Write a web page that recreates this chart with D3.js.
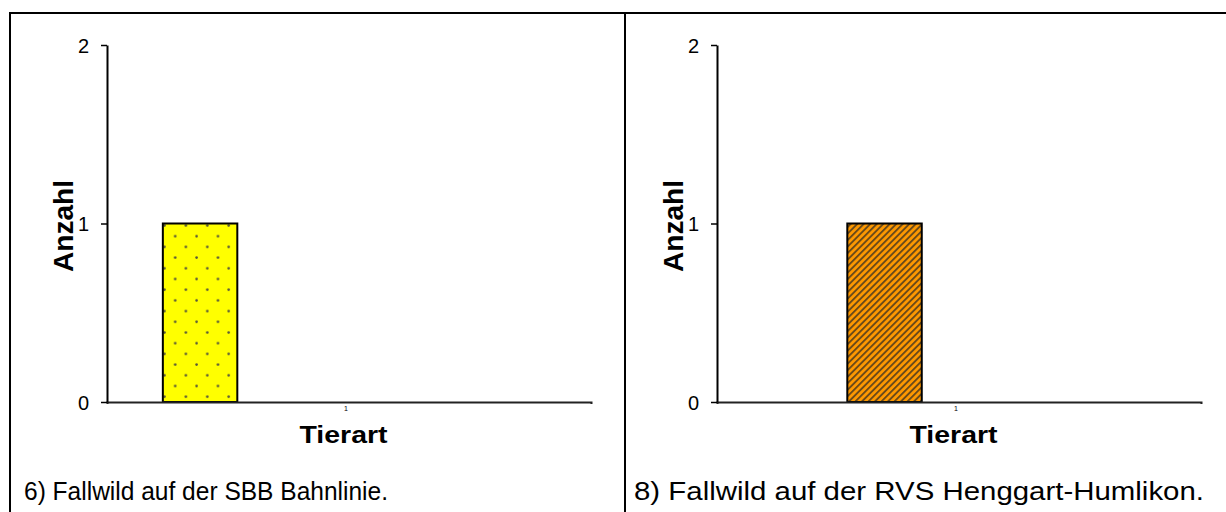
<!DOCTYPE html>
<html>
<head>
<meta charset="utf-8">
<script src="https://cdn.jsdelivr.net/npm/d3@7"></script>
<style>
  html, body { margin: 0; padding: 0; background: #fff; }
  svg { display: block; font-family: "Liberation Sans", Arial, sans-serif; }
</style>
</head>
<body>
<svg id="chart" width="1226" height="512"></svg>
<script>
// ---- data ----
const categories = ["1"];
const seriesNames = ["S1", "S2", "S3", "S4", "S5"];
const yTickValues = [0, 1, 2];
const panel6Values = [1, 0, 0, 0, 0];
const panel8Values = [0, 1, 0, 0, 0];
const yAxisTitle = "Anzahl";
const xAxisTitle = "Tierart";
const caption6 = "6) Fallwild auf der SBB Bahnlinie.";
const caption8 = "8) Fallwild auf der RVS Henggart-Humlikon.";

const svg = d3.select("#chart");
const defs = svg.append("defs");

// dotted yellow pattern
const pDots = defs.append("pattern").attr("id", "dots").attr("patternUnits", "userSpaceOnUse")
  .attr("width", 21.4).attr("height", 21.4).attr("x", 162).attr("y", 223);
pDots.append("rect").attr("width", 21.4).attr("height", 21.4).attr("fill", "#ffff00");
pDots.append("circle").attr("cx", 2.5).attr("cy", 2.5).attr("r", 1.3).attr("fill", "#55553a");
pDots.append("circle").attr("cx", 13.2).attr("cy", 13.2).attr("r", 1.3).attr("fill", "#55553a");

// hatched orange pattern
const pHatch = defs.append("pattern").attr("id", "hatch").attr("patternUnits", "userSpaceOnUse")
  .attr("width", 4.6).attr("height", 4.6).attr("patternTransform", "rotate(45)");
pHatch.append("rect").attr("width", 4.6).attr("height", 4.6).attr("fill", "#ff9900");
pHatch.append("rect").attr("width", 1.9).attr("height", 4.6).attr("fill", "#6a4a1a");

const seriesFills = ["url(#dots)", "url(#hatch)", "#9999ff", "#993366", "#ffffcc"];

// frame
svg.append("line").attr("x1", 10).attr("x2", 1226).attr("y1", 13).attr("y2", 13)
  .attr("stroke", "#000").attr("stroke-width", 2);
svg.append("line").attr("x1", 10).attr("x2", 10).attr("y1", 12).attr("y2", 512)
  .attr("stroke", "#000").attr("stroke-width", 2);
svg.append("line").attr("x1", 625).attr("x2", 625).attr("y1", 12).attr("y2", 512)
  .attr("stroke", "#000").attr("stroke-width", 2);

function panel(ox, values, caption, captionLen) {
  const left = ox + 107, right = ox + 591;
  const y = d3.scaleLinear().domain([0, 2]).range([402, 45]);
  const x0 = d3.scaleBand().domain(categories).range([left, right]).padding(0);
  const x1 = d3.scaleBand().domain(seriesNames).range([0, x0.bandwidth()])
    .paddingInner(0).paddingOuter(0.75);

  const g = svg.append("g");

  // bars
  categories.forEach(c => {
    const rows = values.map((v, i) => ({ v, s: seriesNames[i], i })).filter(d => d.v > 0);
    g.selectAll(null).data(rows).enter().append("rect")
      .attr("x", d => x0(c) + x1(d.s))
      .attr("width", x1.bandwidth())
      .attr("y", d => y(d.v))
      .attr("height", d => y(0) - y(d.v))
      .attr("fill", d => seriesFills[d.i])
      .attr("stroke", "#000").attr("stroke-width", 2);
  });

  // x axis
  const xa = g.append("g").attr("transform", `translate(0,${y(0)})`)
    .call(d3.axisBottom(x0).tickSize(0).tickSizeOuter(2).tickPadding(4));
  xa.select(".domain").attr("stroke", "#222").attr("stroke-width", 2);
  xa.selectAll(".tick text").style("font-size", "7px").attr("fill", "#000")
    .style("font-family", "Liberation Sans, Arial, sans-serif").attr("dx", -3);

  // y axis
  const ya = g.append("g").attr("transform", `translate(${left},0)`)
    .call(d3.axisLeft(y).tickValues(yTickValues).tickFormat(d3.format("d"))
      .tickSize(6).tickSizeOuter(0).tickPadding(12));
  ya.select(".domain").attr("stroke", "#000").attr("stroke-width", 2);
  ya.selectAll(".tick line").attr("stroke", "#000").attr("stroke-width", 1.5);
  ya.selectAll(".tick text").style("font-size", "20px").attr("fill", "#000")
    .style("font-family", "Liberation Sans, Arial, sans-serif")
    .attr("dy", "0.35em");

  // titles
  g.append("text").attr("transform", `translate(${ox + 73},${226}) rotate(-90)`)
    .attr("text-anchor", "middle").attr("font-weight", "bold").attr("font-size", 28)
    .attr("textLength", 92).attr("lengthAdjust", "spacingAndGlyphs")
    .text(yAxisTitle);
  g.append("text").attr("x", ox + 343.5).attr("y", 443)
    .attr("text-anchor", "middle").attr("font-weight", "bold").attr("font-size", 24)
    .attr("textLength", 88).attr("lengthAdjust", "spacingAndGlyphs")
    .text(xAxisTitle);

  // caption
  g.append("text").attr("x", ox + 24).attr("y", 500)
    .attr("font-size", 26).attr("textLength", captionLen).attr("lengthAdjust", "spacingAndGlyphs")
    .text(caption);
}

panel(0, panel6Values, caption6, 364);
panel(610, panel8Values, caption8, 570);
</script>
</body>
</html>
